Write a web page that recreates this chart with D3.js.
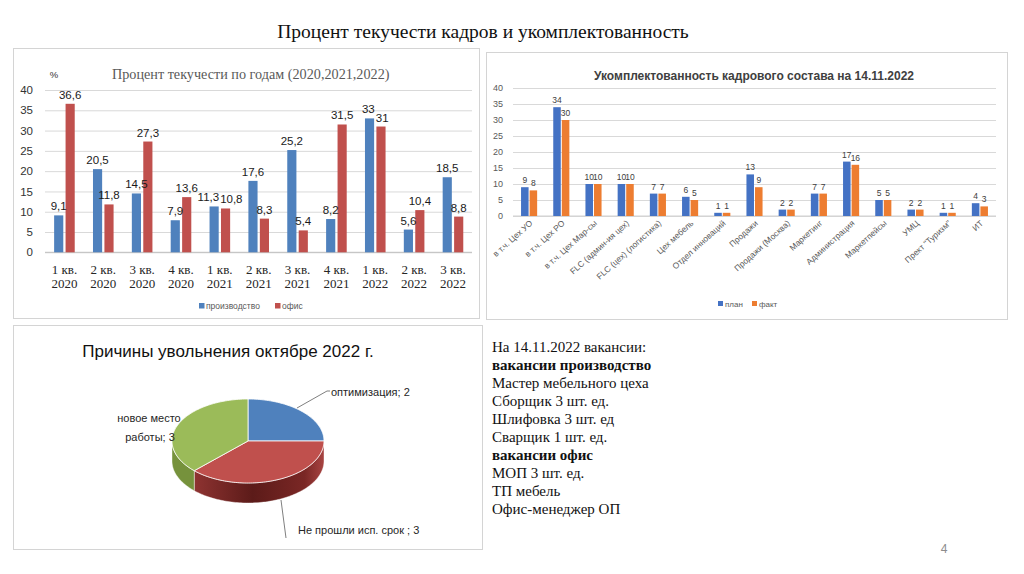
<!DOCTYPE html>
<html><head><meta charset="utf-8">
<script src="https://cdn.jsdelivr.net/npm/d3@7"></script>
<style>
html,body{margin:0;padding:0;background:#fff;}
svg{display:block;}
</style></head><body>
<svg id="s" width="1024" height="574"></svg>
<script>
// ---------- DATA ----------
const quarterLabels = ["1 кв.","2 кв.","3 кв.","4 кв.","1 кв.","2 кв.","3 кв.","4 кв.","1 кв.","2 кв.","3 кв."];
const yearLabels = ["2020","2020","2020","2020","2021","2021","2021","2021","2022","2022","2022"];
const production = [9.1,20.5,14.5,7.9,11.3,17.6,25.2,8.2,33,5.6,18.5];
const office = [36.6,11.8,27.3,13.6,10.8,8.3,5.4,31.5,31,10.4,8.8];
const turnoverTicks = [0,5,10,15,20,25,30,35,40];

const depts = ["в т.ч. Цех УО","в т.ч. Цех РО","в т.ч. Цех Мар-сы","FLC (админ-ия цех)","FLC (цех) (логистика)","Цех мебель","Отдел инноваций","Продажи","Продажи (Москва)","Маркетинг","Администрация","Маркетпейсы","УМЦ","Прект \"Туризм\"","ИТ"];
const plan = [9,34,10,10,7,6,1,13,2,7,17,5,2,1,4];
const fact = [8,30,10,10,7,5,1,9,2,7,16,5,2,1,3];
const staffTicks = [0,5,10,15,20,25,30,35,40];

const reasons = ["оптимизация","Не прошли исп. срок ","новое место работы"];
const reasonCounts = [2,3,3];

const vacancyLines = [
  {t:"На 14.11.2022 вакансии:", b:false},
  {t:"вакансии производство", b:true},
  {t:"Мастер мебельного цеха", b:false},
  {t:"Сборщик 3 шт. ед.", b:false},
  {t:"Шлифовка 3 шт. ед", b:false},
  {t:"Сварщик 1 шт. ед.", b:false},
  {t:"вакансии офис", b:true},
  {t:"МОП 3 шт. ед.", b:false},
  {t:"ТП мебель", b:false},
  {t:"Офис-менеджер ОП", b:false}
];

// ---------- SETUP ----------
const svg = d3.select("#s");
svg.append("rect").attr("width",1024).attr("height",574).attr("fill","#fff");
const SANS = "'Liberation Sans', Arial, sans-serif";
const SERIF = "'Liberation Serif', 'Times New Roman', serif";

// page title
svg.append("text").attr("x",483).attr("y",38).attr("text-anchor","middle")
  .attr("font-family",SERIF).attr("font-size",19.5).attr("fill","#111")
  .text("Процент текучести кадров и укомплектованность");

// boxes
const boxes = [[13,48,466,270],[486,52,521,267],[13,325,469,224]];
boxes.forEach(b=>svg.append("rect").attr("x",b[0]+0.5).attr("y",b[1]+0.5).attr("width",b[2]).attr("height",b[3])
  .attr("fill","none").attr("stroke","#d4d4d4").attr("stroke-width",1));

// ---------- LEFT CHART ----------
{
  const g = svg.append("g");
  const x0 = d3.scaleBand().domain(d3.range(quarterLabels.length)).range([45,472.4]).paddingInner(0.47).paddingOuter(0.235);
  const x1 = d3.scaleBand().domain(["p","o"]).range([0,x0.bandwidth()]).paddingInner(0.2);
  const y = d3.scaleLinear().domain([0,40]).range([252.3,90]);
  const yAxis = d3.axisLeft(y).tickValues(turnoverTicks).tickSize(-(472-45)).tickPadding(12);
  const ya = g.append("g").attr("transform","translate(45,0)").call(yAxis);
  ya.select(".domain").remove();
  ya.selectAll(".tick line").attr("stroke","#d9d9d9");
  ya.selectAll(".tick text").attr("font-family",SANS).attr("font-size",11.5).attr("fill","#333");
  g.append("line").attr("x1",45).attr("x2",472).attr("y1",y(0)).attr("y2",y(0)).attr("stroke","#bfbfbf");

  g.append("text").attr("x",112).attr("y",79).attr("font-family",SERIF).attr("font-size",14.2).attr("fill","#595959")
    .text("Процент текучести по годам (2020,2021,2022)");
  g.append("text").attr("x",54).attr("y",78).attr("text-anchor","middle").attr("font-family",SANS).attr("font-size",9.5).attr("fill","#333").text("%");

  const series = [{k:"p",vals:production,c:"#4F81BD"},{k:"o",vals:office,c:"#C0504D"}];
  series.forEach(s=>{
    g.selectAll(null).data(s.vals).enter().append("rect")
      .attr("x",(d,i)=>x0(i)+x1(s.k)).attr("width",x1.bandwidth())
      .attr("y",d=>y(d)).attr("height",d=>y(0)-y(d)).attr("fill",s.c);
  });
  quarterLabels.forEach((q,i)=>{
    const items = series.map(s=>{
      const v = s.vals[i];
      const t = g.append("text").attr("text-anchor","middle").attr("font-family",SANS).attr("font-size",11.5)
        .attr("fill","#1a1a1a").text(String(v).replace(".",","));
      return {t, cx:x0(i)+x1(s.k)+x1.bandwidth()/2, y:y(v)-5, w:t.node().getComputedTextLength()};
    });
    const [a,b] = items;
    if (Math.abs(a.y-b.y) < 12) {
      const overlap = (a.w/2+b.w/2+1) - (b.cx-a.cx);
      if (overlap>0){ a.cx -= overlap/2; b.cx += overlap/2; }
    }
    items.forEach(it=>it.t.attr("x",it.cx).attr("y",it.y));
    const cx = x0(i)+x0.bandwidth()/2;
    g.append("text").attr("x",cx).attr("y",274).attr("text-anchor","middle").attr("font-family",SERIF).attr("font-size",13).attr("fill","#262626").text(q);
    g.append("text").attr("x",cx).attr("y",288).attr("text-anchor","middle").attr("font-family",SERIF).attr("font-size",13).attr("fill","#262626").text(yearLabels[i]);
  });
  g.append("rect").attr("x",199).attr("y",303).attr("width",5.5).attr("height",5.5).attr("fill","#4F81BD");
  g.append("text").attr("x",206).attr("y",309).attr("font-family",SANS).attr("font-size",8.5).attr("fill","#595959").text("производство");
  g.append("rect").attr("x",275).attr("y",303).attr("width",5.5).attr("height",5.5).attr("fill","#C0504D");
  g.append("text").attr("x",282).attr("y",309).attr("font-family",SANS).attr("font-size",8.5).attr("fill","#595959").text("офис");
}

// ---------- RIGHT CHART ----------
{
  const g = svg.append("g");
  const x0 = d3.scaleBand().domain(depts).range([513,996]).paddingInner(0.5).paddingOuter(0.25);
  const x1 = d3.scaleBand().domain(["plan","fact"]).range([0,x0.bandwidth()]).paddingInner(0.12);
  const y = d3.scaleLinear().domain([0,40]).range([216,88]);
  const ya = g.append("g").attr("transform","translate(513,0)")
    .call(d3.axisLeft(y).tickValues(staffTicks).tickSize(-(996-513)).tickPadding(10));
  ya.select(".domain").remove();
  ya.selectAll(".tick line").attr("stroke","#d9d9d9");
  ya.selectAll(".tick text").attr("font-family",SANS).attr("font-size",9).attr("fill","#595959");
  g.append("line").attr("x1",513).attr("x2",996).attr("y1",y(0)).attr("y2",y(0)).attr("stroke","#d0d0d0");

  g.append("text").attr("x",754).attr("y",80).attr("text-anchor","middle").attr("font-family",SANS)
    .attr("font-size",12).attr("font-weight","bold").attr("fill","#404040")
    .attr("textLength",320).attr("lengthAdjust","spacingAndGlyphs")
    .text("Укомплектованность кадрового состава на 14.11.2022");

  const series = [{k:"plan",vals:plan,c:"#4472C4"},{k:"fact",vals:fact,c:"#ED7D31"}];
  series.forEach(s=>{
    g.selectAll(null).data(s.vals).enter().append("rect")
      .attr("x",(d,i)=>x0(depts[i])+x1(s.k)).attr("width",x1.bandwidth())
      .attr("y",d=>y(d)).attr("height",d=>y(0)-y(d)).attr("fill",s.c);
    g.selectAll(null).data(s.vals).enter().append("text")
      .attr("x",(d,i)=>x0(depts[i])+x1(s.k)+x1.bandwidth()/2).attr("y",d=>y(d)-4)
      .attr("text-anchor","middle").attr("font-family",SANS).attr("font-size",8.5).attr("fill","#404040")
      .text(d=>d);
  });
  depts.forEach(d=>{
    const cx = x0(d)+x0.bandwidth()/2;
    g.append("text").attr("transform",`translate(${cx+4},${224}) rotate(-42)`)
      .attr("text-anchor","end").attr("font-family",SANS).attr("font-size",8.4).attr("fill","#595959").text(d);
  });
  g.append("rect").attr("x",718).attr("y",301).attr("width",5).attr("height",5).attr("fill","#4472C4");
  g.append("text").attr("x",725).attr("y",307).attr("font-family",SANS).attr("font-size",8).attr("fill","#595959").text("план");
  g.append("rect").attr("x",752).attr("y",301).attr("width",5).attr("height",5).attr("fill","#ED7D31");
  g.append("text").attr("x",759).attr("y",307).attr("font-family",SANS).attr("font-size",8).attr("fill","#595959").text("факт");
}

// ---------- PIE ----------
{
  const g = svg.append("g");
  g.append("text").attr("x",228).attr("y",357).attr("text-anchor","middle").attr("font-family",SANS)
    .attr("font-size",17).attr("fill","#111").text("Причины увольнения октябре 2022 г.");
  const cx=248, cy=441, rx=76, ry=42, depth=20;
  const topCols = ["#4F81BD","#C0504D","#9BBB59"];
  const sideCols = ["#385d8a","url(#redSide)","#76923C"];
  const defs = svg.append("defs");
  const lg = defs.append("linearGradient").attr("id","redSide").attr("x1","0").attr("x2","1").attr("y1","0").attr("y2","0");
  lg.append("stop").attr("offset","0").attr("stop-color","#8e3331");
  lg.append("stop").attr("offset","0.45").attr("stop-color","#5c1b19");
  lg.append("stop").attr("offset","0.85").attr("stop-color","#7a2725");
  lg.append("stop").attr("offset","1").attr("stop-color","#a84442");
  const P = (a,dz)=>[cx+rx*Math.sin(a), cy-ry*Math.cos(a)+dz];
  const arcs = d3.pie().sort(null)(reasonCounts);
  const line = d3.line();
  const sample = (a0,a1,dz)=>{const n=Math.max(2,Math.ceil((a1-a0)*40));return d3.range(n+1).map(k=>P(a0+(a1-a0)*k/n,dz));};
  arcs.forEach((a,i)=>{
    const s = Math.max(a.startAngle,Math.PI/2), e = Math.min(a.endAngle,3*Math.PI/2);
    if (s<e){
      const pts = sample(s,e,0).concat(sample(s,e,depth).reverse());
      g.append("path").attr("d",line(pts)+"Z").attr("fill",sideCols[i]).attr("stroke","#fff").attr("stroke-width",0.4);
    }
  });
  arcs.forEach((a,i)=>{
    const pts = [[cx,cy]].concat(sample(a.startAngle,a.endAngle,0));
    g.append("path").attr("d",line(pts)+"Z").attr("fill",topCols[i]).attr("stroke","#fff").attr("stroke-width",0.8);
  });
  g.append("polyline").attr("points","297,408 327,391 330,391").attr("fill","none").attr("stroke","#7f7f7f").attr("stroke-width",1);
  g.append("text").attr("x",331).attr("y",396).attr("font-family",SANS).attr("font-size",11).attr("fill","#262626")
    .text(reasons[0]+"; "+reasonCounts[0]);
  g.append("polyline").attr("points","281,500 286,538").attr("fill","none").attr("stroke","#7f7f7f").attr("stroke-width",1);
  g.append("text").attr("x",298).attr("y",534).attr("font-family",SANS).attr("font-size",11).attr("fill","#262626")
    .text(reasons[1]+"; "+reasonCounts[1]);
  const w = reasons[2].split(" ");
  g.append("text").attr("x",149).attr("y",422).attr("text-anchor","middle").attr("font-family",SANS).attr("font-size",11).attr("fill","#262626")
    .text(w[0]+" "+w[1]);
  g.append("text").attr("x",150).attr("y",441).attr("text-anchor","middle").attr("font-family",SANS).attr("font-size",11).attr("fill","#262626")
    .text(w[2]+"; "+reasonCounts[2]);
}

// ---------- TEXT BLOCK ----------
vacancyLines.forEach((l,i)=>{
  svg.append("text").attr("x",492).attr("y",352+i*18).attr("font-family",SERIF).attr("font-size",15)
    .attr("font-weight",l.b?"bold":"normal").attr("fill","#111").text(l.t);
});
svg.append("text").attr("x",944).attr("y",553).attr("text-anchor","middle").attr("font-family",SANS).attr("font-size",12).attr("fill","#8c8c8c").text("4");
</script>
</body></html>
